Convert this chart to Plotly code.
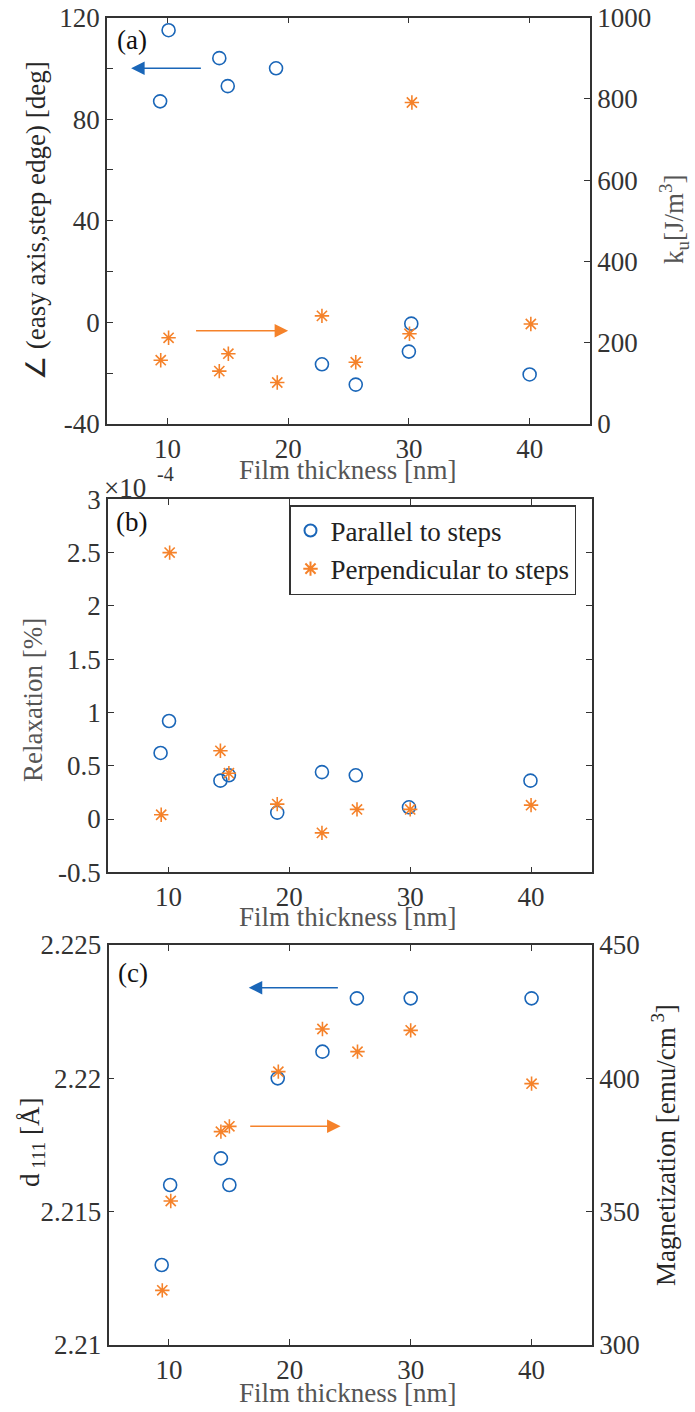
import plotly.graph_objects as go

# ---------------- data ----------------
# (a) easy-axis angle (left axis) and uniaxial anisotropy k_u (right axis)
thick_a_par = [9.4, 10.1, 14.3, 15.0, 19.0, 22.8, 25.6, 30.0, 30.2, 40.0]
angle_par = [87, 115, 104, 93, 100, -16.5, -24.5, -11.5, -0.5, -20.5]
thick_a_perp = [9.45, 10.1, 14.3, 15.05, 19.1, 22.8, 25.6, 30.05, 30.25, 40.1]
ku_perp = [157, 212, 130, 173, 102, 266, 152, 222, 791, 246]

# (b) relaxation, in units of 1e-4 %
thick_b_par = [9.35, 10.05, 14.3, 15.0, 19.0, 22.7, 25.5, 29.9, 39.95]
relax_par = [0.62, 0.92, 0.36, 0.41, 0.06, 0.44, 0.41, 0.11, 0.36]
thick_b_perp = [9.4, 10.1, 14.3, 15.0, 19.0, 22.7, 25.6, 30.0, 40.0]
relax_perp = [0.04, 2.5, 0.64, 0.43, 0.14, -0.13, 0.09, 0.09, 0.13]

# (c) d111 spacing (left axis) and magnetization (right axis)
thick_c_par = [9.4, 10.1, 14.3, 15.0, 19.0, 22.7, 25.55, 30.0, 40.0]
d111 = [2.213, 2.216, 2.217, 2.216, 2.220, 2.221, 2.223, 2.223, 2.223]
thick_c_perp = [9.45, 10.15, 14.3, 15.0, 19.05, 22.7, 25.6, 30.0, 40.0]
magnetization = [320.5, 354, 380, 382, 402.5, 418.5, 410, 418, 398]

x_ticks = [10, 20, 30, 40]
angle_ticks = [-40, -20, 0, 20, 40, 60, 80, 100, 120]
angle_labels = ["-40", "", "0", "", "40", "", "80", "", "120"]
ku_ticks = [0, 200, 400, 600, 800, 1000]
relax_ticks = [-0.5, 0, 0.5, 1, 1.5, 2, 2.5, 3]
relax_labels = ["-0.5", "0", "0.5", "1", "1.5", "2", "2.5", "3"]
d_ticks = [2.21, 2.215, 2.22, 2.225]
d_labels = ["2.21", "2.215", "2.22", "2.225"]
m_ticks = [300, 350, 400, 450]

# ---------------- styling ----------------
W, H = 695, 1412
BLUE = "#1a66b8"
ORANGE = "#f5822a"
FONT = "Liberation Serif, Times New Roman, serif"
FS = 27
TICK_C = "#333333"
TITLE_C = "#555555"
AX_C = "#333333"


def px_x(p):
    return p / W


def px_y(p):
    return 1 - p / H


circle = dict(symbol="circle-open", size=13, color=BLUE, line=dict(color=BLUE, width=1.6))
star = dict(symbol="asterisk-open", size=12, color=ORANGE, line=dict(color=ORANGE, width=1.6))

fig = go.Figure()

# (a)
fig.add_trace(go.Scatter(x=thick_a_par, y=angle_par, mode="markers", marker=circle,
                         xaxis="x", yaxis="y", showlegend=False))
fig.add_trace(go.Scatter(x=thick_a_perp, y=ku_perp, mode="markers", marker=star,
                         xaxis="x", yaxis="y2", showlegend=False))
# (b)
fig.add_trace(go.Scatter(x=thick_b_par, y=relax_par, mode="markers", marker=circle,
                         xaxis="x2", yaxis="y3", name="Parallel to steps"))
fig.add_trace(go.Scatter(x=thick_b_perp, y=relax_perp, mode="markers", marker=star,
                         xaxis="x2", yaxis="y3", name="Perpendicular to steps"))
# (c)
fig.add_trace(go.Scatter(x=thick_c_par, y=d111, mode="markers", marker=circle,
                         xaxis="x3", yaxis="y4", showlegend=False))
fig.add_trace(go.Scatter(x=thick_c_perp, y=magnetization, mode="markers", marker=star,
                         xaxis="x3", yaxis="y5", showlegend=False))

tickfont = dict(family=FONT, size=FS, color=TICK_C)


def xax(domain, anchor):
    return dict(domain=domain, anchor=anchor, range=[5, 45], tickvals=x_ticks,
                ticks="inside", ticklen=6, tickwidth=1.3, tickcolor=AX_C,
                showline=True, linecolor=AX_C, linewidth=1.5, mirror="ticks",
                showgrid=False, zeroline=False, tickfont=tickfont, fixedrange=True,
                automargin=False)


def yax(domain, anchor, rng, vals, text=None, side="left", mirror=False, overlaying=None):
    d = dict(anchor=anchor, range=rng, tickvals=vals, side=side,
             ticks="inside", ticklen=6, tickwidth=1.3, tickcolor=AX_C,
             showline=True, linecolor=AX_C, linewidth=1.5, mirror=mirror,
             showgrid=False, zeroline=False, tickfont=tickfont, fixedrange=True,
             automargin=False)
    if text is not None:
        d["ticktext"] = text
    if overlaying:
        d["overlaying"] = overlaying
    else:
        d["domain"] = domain
    return d


dom_a = [px_y(424), px_y(17.5)]
dom_b = [px_y(872.3), px_y(499.3)]
dom_c = [px_y(1345), px_y(945)]

fig.update_layout(
    width=W, height=H,
    margin=dict(l=0, r=0, t=0, b=0, autoexpand=False),
    paper_bgcolor="white", plot_bgcolor="white",
    font=dict(family=FONT, size=FS, color=TICK_C),
    xaxis=xax([px_x(107), px_x(590)], "y"),
    yaxis=yax(dom_a, "x", [-40, 120], angle_ticks, angle_labels),
    yaxis2=yax(None, "x", [0, 1000], ku_ticks, side="right", overlaying="y"),
    xaxis2=xax([px_x(108), px_x(591.5)], "y3"),
    yaxis3=yax(dom_b, "x2", [-0.5, 3], relax_ticks, relax_labels, mirror="ticks"),
    xaxis3=xax([px_x(108.5), px_x(592)], "y4"),
    yaxis4=yax(dom_c, "x3", [2.21, 2.225], d_ticks, d_labels),
    yaxis5=yax(None, "x3", [300, 450], m_ticks, side="right", overlaying="y4"),
    legend=dict(x=px_x(289), y=px_y(505), xanchor="left", yanchor="top",
                bgcolor="white", bordercolor=AX_C, borderwidth=1.5,
                font=dict(family=FONT, size=FS, color="#222222"),
                tracegroupgap=0, itemsizing="constant"),
)

annotations = []


def label(text, x, y, size=FS, color=TITLE_C, angle=0, xanchor="center"):
    annotations.append(dict(text=text, x=px_x(x), y=px_y(y), xref="paper", yref="paper",
                            showarrow=False, textangle=angle, xanchor=xanchor, yanchor="middle",
                            font=dict(family=FONT, size=size, color=color)))


# axis titles
label("Film thickness [nm]", 348, 470)
label("Film thickness [nm]", 348, 917)
label("Film thickness [nm]", 348, 1393)
label("\u2220 (easy axis,step edge) [deg]", 36, 221, color="#262626", angle=-90)
label("k<sub>u</sub>[J/m<sup>3</sup>]", 674, 220, angle=-90)
label("Relaxation [%]", 33, 700, angle=-90)
label("d<sub> 111</sub> [\u00c5]", 32, 1143, color="#262626", angle=-90)
label("Magnetization [emu/cm<sup> 3</sup>]", 664, 1145, color="#262626", angle=-90)
# exponent of the relaxation axis
label("\u00d710", 125, 488, color=TICK_C)
label("-4", 165, 474, size=20, color=TICK_C)
# panel tags
label("(a)", 132, 40, color="#111111")
label("(b)", 131, 522, color="#111111")
label("(c)", 133, 973, color="#111111")


def arrow(color, xref, yref, x_tail, x_head, y):
    annotations.append(dict(x=x_head, y=y, ax=x_tail, ay=y, xref=xref, yref=yref,
                            axref=xref, ayref=yref, showarrow=True, text="",
                            arrowhead=2, arrowsize=1.8, arrowwidth=1.5, arrowcolor=color))


# arrows pointing to the axis each series belongs to
arrow(BLUE, "x", "y", 12.9, 7.0, 100)
arrow(ORANGE, "x", "y", 12.25, 20.0, -3.3)
arrow(BLUE, "x3", "y4", 24.1, 16.6, 2.2234)
arrow(ORANGE, "x3", "y4", 16.6, 24.2, 2.2182)

fig.update_layout(annotations=annotations)

fig.write_html("out.html")
